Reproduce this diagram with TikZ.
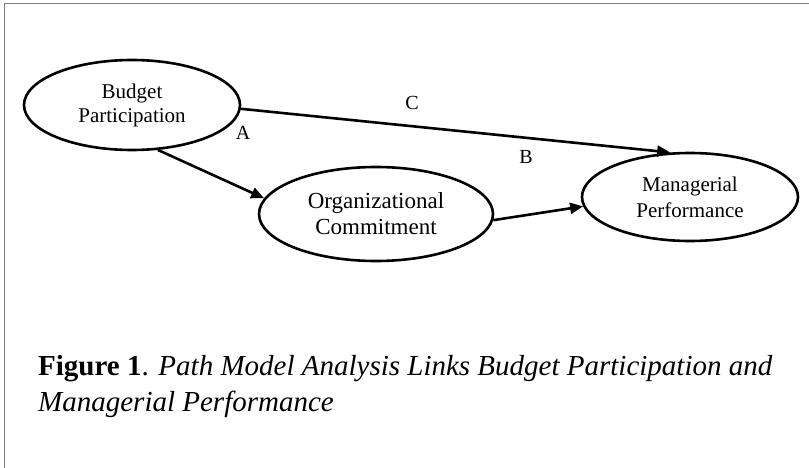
\documentclass[tikz,border=0pt]{standalone}
\usepackage{fontspec}
\setmainfont{Liberation Serif}
\usetikzlibrary{shapes.geometric,arrows.meta}
\begin{document}
\begin{tikzpicture}[x=1pt,y=-1pt,
  construct/.style={ellipse,draw,line width=2.6pt,inner sep=0pt,align=center},
  path arrow/.style={line width=2.6pt,-{Triangle[length=13pt,width=11pt]}},
  pathlabel/.style={inner sep=0pt,font=\fontsize{20}{22}\selectfont},
  frameline/.style={draw=black!50,line width=1.6pt}
]
\useasboundingbox (0,0) rectangle (809,468);
% frame edges
\draw[frameline] (4.5,3.5) -- (809,3.5);
\draw[frameline] (4.5,3.5) -- (4.5,468);

% constructs
\node[construct,minimum width=216pt,minimum height=90pt,
      font=\fontsize{21}{24}\selectfont] (bp) at (132,105) {Budget\\Participation};
\node[construct,minimum width=234pt,minimum height=94pt,
      font=\fontsize{23}{26}\selectfont] (oc) at (376,214) {Organizational\\Commitment};
\node[construct,minimum width=216pt,minimum height=88pt,
      font=\fontsize{21}{26}\selectfont] (mp) at (690,197) {Managerial\\Performance};

% paths
\draw[path arrow] (bp.-2) -- (mp.114);
\draw[path arrow] (bp.-60) -- (oc.172);
\draw[path arrow] (oc.-3) -- (mp.185);

% path labels
\node[pathlabel] (la) at (243,133) {A};
\node[pathlabel] (lb) at (526,157) {B};
\node[pathlabel] (lc) at (412,103) {C};

% caption
\node[anchor=base west,inner sep=0pt,font=\fontsize{29}{35}\selectfont] (cap1) at (38,375)
  {\textbf{Figure 1}. \textit{Path Model Analysis Links Budget Participation and}};
\node[anchor=base west,inner sep=0pt,font=\fontsize{29}{35}\selectfont] (cap2) at (38,411)
  {\textit{Managerial Performance}};
\end{tikzpicture}
\end{document}
